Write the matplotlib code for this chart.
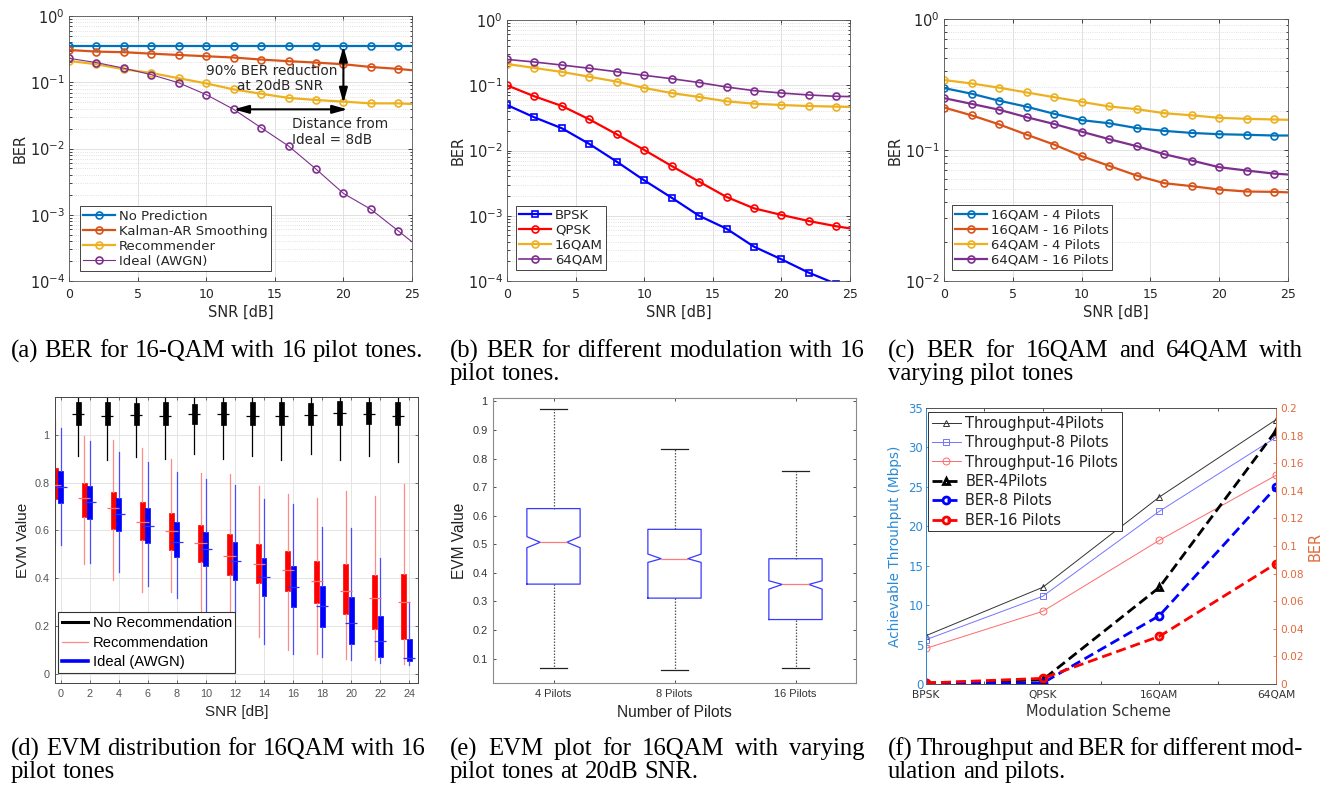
import numpy as np
import matplotlib
matplotlib.use('Agg')
import matplotlib.pyplot as plt
import matplotlib.ticker as mticker
from matplotlib.lines import Line2D

# ---- data ----
SNR = [0, 2, 4, 6, 8, 10, 12, 14, 16, 18, 20, 22, 24, 25]

# (a) 16-QAM, 16 pilots
NO_PRED = [0.350, 0.350, 0.350, 0.350, 0.350, 0.350, 0.350, 0.350, 0.350, 0.350, 0.350, 0.350, 0.350, 0.350]
KALMAN = [0.307, 0.290, 0.284, 0.270, 0.258, 0.247, 0.236, 0.220, 0.208, 0.198, 0.187, 0.170, 0.159, 0.152]
RECOMM = [0.210, 0.187, 0.157, 0.138, 0.115, 0.096, 0.078, 0.067, 0.058, 0.054, 0.051, 0.048, 0.048, 0.047]
IDEAL = [0.230, 0.198, 0.163, 0.130, 0.098, 0.065, 0.039, 0.0206, 0.0109, 0.0049, 0.0021, 0.00121, 0.00057, 0.00039]

# (b) modulations
BPSK = [0.0498, 0.0322, 0.0219, 0.0126, 0.00674, 0.00349, 0.00189, 0.00100, 0.000633, 0.000336, 0.000215, 0.000134, 0.000090]
QPSK = [0.0998, 0.0676, 0.0481, 0.0300, 0.0177, 0.0102, 0.00579, 0.00333, 0.00194, 0.00130, 0.00103, 0.00083, 0.00069, 0.00064]
QAM16 = [0.212, 0.184, 0.160, 0.135, 0.1135, 0.0908, 0.076, 0.066, 0.0567, 0.0522, 0.0498, 0.048, 0.047, 0.0465]
QAM64 = [0.249, 0.227, 0.204, 0.182, 0.161, 0.142, 0.126, 0.110, 0.094, 0.0826, 0.076, 0.071, 0.0676, 0.067]

# (c) pilots
Q16_P4 = [0.297, 0.269, 0.238, 0.214, 0.189, 0.169, 0.160, 0.147, 0.140, 0.135, 0.132, 0.1306, 0.129, 0.129]
Q16_P16 = [0.211, 0.184, 0.157, 0.131, 0.110, 0.0898, 0.0757, 0.0638, 0.0558, 0.053, 0.0499, 0.0482, 0.0479, 0.0475]
Q64_P4 = [0.342, 0.322, 0.299, 0.275, 0.253, 0.233, 0.215, 0.205, 0.191, 0.184, 0.176, 0.173, 0.171, 0.170]
Q64_P16 = [0.249, 0.225, 0.203, 0.178, 0.158, 0.138, 0.121, 0.107, 0.0929, 0.0831, 0.0739, 0.0697, 0.066, 0.065]

# (d) EVM box stats per SNR
EVM_SNR = [0, 2, 4, 6, 8, 10, 12, 14, 16, 18, 20, 22, 24]
NOREC_MED = [1.088, 1.080, 1.081, 1.080, 1.088, 1.085, 1.080, 1.080, 1.083, 1.090, 1.086, 1.080]
NOREC_Q1 = [1.042, 1.040, 1.040, 1.040, 1.045, 1.042, 1.040, 1.040, 1.042, 1.040, 1.045, 1.040]
NOREC_Q3 = [1.135, 1.135, 1.132, 1.135, 1.130, 1.135, 1.138, 1.135, 1.133, 1.140, 1.135, 1.138]
NOREC_LO = [0.910, 0.895, 0.905, 0.900, 0.920, 0.900, 0.910, 0.895, 0.920, 0.895, 0.910, 0.885]
NOREC_HI = [1.170, 1.170, 1.170, 1.170, 1.170, 1.170, 1.170, 1.170, 1.170, 1.170, 1.170, 1.170]

REC_Q1 = [0.730, 0.657, 0.607, 0.559, 0.517, 0.466, 0.415, 0.380, 0.347, 0.294, 0.249, 0.185, 0.147]
REC_Q3 = [0.860, 0.800, 0.759, 0.717, 0.671, 0.622, 0.585, 0.541, 0.512, 0.471, 0.459, 0.413, 0.417]
REC_MED = [0.790, 0.734, 0.692, 0.634, 0.596, 0.548, 0.494, 0.457, 0.434, 0.389, 0.345, 0.315, 0.300]
REC_LO = [0.545, 0.459, 0.394, 0.343, 0.343, 0.250, 0.260, 0.154, 0.098, 0.084, 0.063, 0.056, 0.039]
REC_HI = [1.063, 0.996, 0.979, 0.944, 0.899, 0.842, 0.836, 0.786, 0.751, 0.734, 0.765, 0.744, 0.793]

IDL_Q1 = [0.713, 0.648, 0.599, 0.548, 0.487, 0.450, 0.394, 0.324, 0.277, 0.196, 0.123, 0.070, 0.053]
IDL_Q3 = [0.849, 0.786, 0.734, 0.692, 0.636, 0.594, 0.550, 0.483, 0.452, 0.368, 0.319, 0.241, 0.147]
IDL_MED = [0.783, 0.719, 0.669, 0.618, 0.552, 0.520, 0.473, 0.406, 0.364, 0.283, 0.214, 0.137, 0.067]
IDL_LO = [0.538, 0.464, 0.427, 0.366, 0.315, 0.259, 0.259, 0.126, 0.081, 0.070, 0.056, 0.045, 0.035]
IDL_HI = [1.028, 0.972, 0.927, 0.888, 0.843, 0.814, 0.790, 0.730, 0.709, 0.615, 0.608, 0.485, 0.300]

# (e) EVM at 20 dB for pilot counts
PILOTS = ['4 Pilots', '8 Pilots', '16 Pilots']
E_MED = [0.507, 0.4495, 0.3595]
E_Q1 = [0.3606, 0.3116, 0.2367]
E_Q3 = [0.6248, 0.5523, 0.4495]
E_LO = [0.0684, 0.0614, 0.0673]
E_HI = [0.973, 0.833, 0.757]
E_CILO = [0.488, 0.4366, 0.3431]
E_CIHI = [0.5266, 0.4658, 0.3723]

# (f) throughput and BER
MODS = ['BPSK', 'QPSK', '16QAM', '64QAM']
TP_4 = [6.13, 12.26, 23.71, 33.52]
TP_8 = [5.62, 11.12, 21.90, 31.28]
TP_16 = [4.52, 9.21, 18.22, 26.46]
BER_4 = [0.0007, 0.0030, 0.0700, 0.1836]
BER_8 = [0.0005, 0.0007, 0.0495, 0.1425]
BER_16 = [0.0007, 0.0041, 0.0345, 0.0872]

CAPTIONS = [
    ['(a) BER for 16-QAM with 16 pilot tones.'],
    ['(b) BER for different modulation with 16', 'pilot tones.'],
    ['(c) BER for 16QAM and 64QAM with', 'varying pilot tones'],
    ['(d) EVM distribution for 16QAM with 16', 'pilot tones'],
    ['(e) EVM plot for 16QAM with varying', 'pilot tones at 20dB SNR.'],
    ['(f) Throughput and BER for different mod-', 'ulation and pilots.'],
]

# ---- layout helpers (pixels of the 1327x789 image) ----
W, H = 1327, 789
fig = plt.figure(figsize=(W / 100, H / 100), dpi=100)
fig.patch.set_facecolor('white')


def axes_px(x0, y0, x1, y1):
    return fig.add_axes([x0 / W, 1 - y1 / H, (x1 - x0) / W, (y1 - y0) / H])


M_BLUE, M_ORANGE, M_YELLOW, M_PURPLE = '#0072BD', '#D95319', '#EDB120', '#7E2F8E'
DARK = '#262626'


def ber_axes(ax, ylo):
    ax.set_yscale('log')
    ax.set_xlim(0, 25)
    ax.set_ylim(ylo, 1)
    ax.set_xticks(range(0, 26, 5))
    ax.yaxis.set_minor_formatter(mticker.NullFormatter())
    ax.grid(True, which='major', color='#dcdcdc', lw=0.6)
    ax.grid(True, which='minor', axis='y', color='#d8d8d8', lw=0.6, ls=':')
    ax.set_axisbelow(True)
    ax.tick_params(which='both', direction='in', top=True, right=True, colors=DARK,
                   length=3, width=0.6)
    ax.tick_params(which='minor', length=1.8)
    ax.tick_params(axis='x', labelsize=9, pad=5)
    ax.tick_params(axis='y', labelsize=10.5, pad=3)
    for s in ax.spines.values():
        s.set_color('#555555')
        s.set_linewidth(0.6)
    ax.set_xlabel('SNR [dB]', fontsize=10.5, color=DARK, va='center')
    ax.xaxis.set_label_coords(0.5, -0.118)
    ax.set_ylabel('BER', fontsize=10.5, color=DARK, va='center')
    ax.yaxis.set_label_coords(-0.143, 0.5)


def ber_legend(ax, x, y):
    leg = ax.legend(loc='lower left', bbox_to_anchor=(x, y), borderaxespad=0,
                    fontsize=9.5, fancybox=False, framealpha=1, edgecolor=DARK,
                    handlelength=2.4, handletextpad=0.3, labelspacing=0.15,
                    borderpad=0.25)
    leg.get_frame().set_linewidth(0.6)
    for t in leg.get_texts():
        t.set_color(DARK)


mk = dict(marker='o', ms=5, mfc='none', mew=1.2, markevery=slice(0, 13))

# ---- (a) ----
ax = axes_px(69, 16, 412, 281)
ber_axes(ax, 1e-4)
ax.plot(SNR, NO_PRED, color=M_BLUE, lw=1.6, label='No Prediction', **mk)
ax.plot(SNR, KALMAN, color=M_ORANGE, lw=1.6, label='Kalman-AR Smoothing', **mk)
ax.plot(SNR, RECOMM, color=M_YELLOW, lw=1.6, label='Recommender', **mk)
ax.plot(SNR, IDEAL, color=M_PURPLE, lw=0.8, label='Ideal (AWGN)', **mk)
arr = dict(arrowstyle='<|-|>,head_length=0.9,head_width=0.25', color='black', lw=1.5,
           shrinkA=0, shrinkB=0, mutation_scale=10)
ax.annotate('', xy=(20, NO_PRED[10]), xytext=(20, RECOMM[10] * 0.95), arrowprops=arr)
ax.annotate('', xy=(12, IDEAL[6]), xytext=(20.3, IDEAL[6]), arrowprops=arr)
ax.text(14.75, 0.15, '90% BER reduction', ha='center', va='center', fontsize=9.8, color=DARK)
ax.text(15.4, 0.087, 'at 20dB SNR', ha='center', va='center', fontsize=9.8, color=DARK)
ax.text(16.25, 0.0235, 'Distance from', ha='left', va='center', fontsize=9.8, color=DARK)
ax.text(16.25, 0.0133, 'Ideal = 8dB', ha='left', va='center', fontsize=9.8, color=DARK)
ber_legend(ax, 0.032, 0.038)

# ---- (b) ----
ax = axes_px(507, 20, 850, 281)
ber_axes(ax, 1e-4)
ax.plot(SNR[:len(BPSK)], BPSK, color='#0000ff', lw=1.6, label='BPSK',
        marker='s', ms=4.5, mfc='none', mew=1.2)
ax.plot(SNR, QPSK, color='#ff0000', lw=1.6, label='QPSK', **mk)
ax.plot(SNR, QAM16, color=M_YELLOW, lw=1.6, label='16QAM', **mk)
ax.plot(SNR, QAM64, color=M_PURPLE, lw=1.2, label='64QAM', **mk)
ber_legend(ax, 0.026, 0.042)

# ---- (c) ----
ax = axes_px(944, 19, 1288, 281)
ber_axes(ax, 1e-2)
ax.plot(SNR, Q16_P4, color=M_BLUE, lw=1.6, label='16QAM - 4 Pilots', **mk)
ax.plot(SNR, Q16_P16, color=M_ORANGE, lw=1.6, label='16QAM - 16 Pilots', **mk)
ax.plot(SNR, Q64_P4, color=M_YELLOW, lw=1.6, label='64QAM - 4 Pilots', **mk)
ax.plot(SNR, Q64_P16, color=M_PURPLE, lw=1.6, label='64QAM - 16 Pilots', **mk)
ber_legend(ax, 0.023, 0.042)

# ---- (d) ----
SANS = 'Liberation Sans'
ax = axes_px(55, 397, 418, 683)


def stats(med, q1, q3, lo, hi):
    return [dict(med=m, q1=a, q3=b, whislo=c, whishi=d, fliers=[])
            for m, a, b, c, d in zip(med, q1, q3, lo, hi)]


groups = [
    (np.array(EVM_SNR[:len(NOREC_MED)]) + 1.2,
     stats(NOREC_MED, NOREC_Q1, NOREC_Q3, NOREC_LO, NOREC_HI), 'black', 'black', 'black'),
    (np.array(EVM_SNR) - 0.37,
     stats(REC_MED, REC_Q1, REC_Q3, REC_LO, REC_HI), '#ff0000', '#ff8a8a', '#ff7070'),
    (np.array(EVM_SNR, dtype=float),
     stats(IDL_MED, IDL_Q1, IDL_Q3, IDL_LO, IDL_HI), '#0000ff', '#4a4aff', '#3030ff'),
]
for pos, st, fc, wc, mc in groups:
    ax.bxp(st, positions=pos, widths=0.34, patch_artist=True, showcaps=False,
           showfliers=False, manage_ticks=False,
           boxprops=dict(facecolor=fc, edgecolor=fc, lw=0.5),
           whiskerprops=dict(color=wc, lw=0.9),
           medianprops=dict(lw=0))
    meds = [s['med'] for s in st]
    ax.hlines(meds, pos - 0.42, pos + 0.42, color=mc, lw=0.9, zorder=3)
ax.set_xlim(-0.39, 24.6)
ax.set_ylim(-0.039, 1.158)
ax.set_xticks(EVM_SNR)
ax.set_yticks([0, 0.2, 0.4, 0.6, 0.8, 1])
ax.yaxis.set_major_formatter(mticker.FuncFormatter(lambda v, p: f'{v:g}'))
ax.grid(True, color='#e4e4e4', lw=0.7)
ax.set_axisbelow(True)
ax.tick_params(direction='in', top=True, right=True, colors='#555555', length=2.5,
               width=0.6, labelsize=7.8, pad=4)
for t in ax.get_xticklabels() + ax.get_yticklabels():
    t.set_family(SANS)
for s in ax.spines.values():
    s.set_color('#444444')
    s.set_linewidth(0.7)
ax.set_xlabel('SNR [dB]', fontsize=11, family=SANS, color='#222222', va='center')
ax.xaxis.set_label_coords(0.5, -0.101)
ax.set_ylabel('EVM Value', fontsize=11, family=SANS, color='#222222', va='center')
ax.yaxis.set_label_coords(-0.088, 0.5)
hd = [Line2D([], [], color='black', lw=2.2), Line2D([], [], color='#ff8a8a', lw=0.9),
      Line2D([], [], color='#0000ff', lw=2.6)]
leg = ax.legend(hd, ['No Recommendation', 'Recommendation', 'Ideal (AWGN)'],
                loc='lower left', bbox_to_anchor=(0.008, 0.035), borderaxespad=0,
                prop=dict(family=SANS, size=10.6), fancybox=False, framealpha=1,
                edgecolor='#333333', handlelength=1.8, handletextpad=0.3,
                labelspacing=0.38, borderpad=0.25)
leg.get_frame().set_linewidth(0.8)

# ---- (e) ----
ax = axes_px(493, 398, 856, 683)
st = [dict(med=m, q1=a, q3=b, whislo=c, whishi=d, cilo=e, cihi=f, fliers=[])
      for m, a, b, c, d, e, f in zip(E_MED, E_Q1, E_Q3, E_LO, E_HI, E_CILO, E_CIHI)]
ax.bxp(st, positions=[1, 2, 3], widths=0.44, shownotches=True, showfliers=False,
       capwidths=0.22, manage_ticks=False,
       boxprops=dict(color='#3a3aff', lw=0.9),
       whiskerprops=dict(color='#555555', lw=0.9, ls=(0, (1.2, 1.2))),
       capprops=dict(color='#222222', lw=0.9),
       medianprops=dict(color='#ff7a7a', lw=0.9))
ax.set_xlim(0.5, 3.5)
ax.set_ylim(0.0147, 1.0117)
ax.set_xticks([1, 2, 3])
ax.set_xticklabels(PILOTS)
ax.set_yticks(np.round(np.arange(0.1, 1.01, 0.1), 1))
ax.yaxis.set_major_formatter(mticker.FuncFormatter(lambda v, p: f'{v:g}'))
ax.tick_params(direction='in', top=True, right=True, colors='#333333', length=2.5,
               width=0.6, labelsize=7.9, pad=4)
for t in ax.get_xticklabels() + ax.get_yticklabels():
    t.set_family(SANS)
for s in ax.spines.values():
    s.set_color('#8a8a8a')
    s.set_linewidth(0.8)
ax.set_xlabel('Number of Pilots', fontsize=11.2, family=SANS, color='#222222', va='center')
ax.xaxis.set_label_coords(0.5, -0.105)
ax.set_ylabel('EVM Value', fontsize=11.2, family=SANS, color='#222222', va='center')
ax.yaxis.set_label_coords(-0.091, 0.5)

# ---- (f) ----
F_BLUE, F_ORANGE = '#2b8ad4', '#e06a3c'
ax = axes_px(926, 408, 1276, 684)
ax2 = ax.twinx()
xm = np.arange(1, len(MODS) + 1)
h1, = ax.plot(xm, TP_4, color='#333333', lw=0.7, marker='^', ms=5, mfc='none', mew=0.7,
              label='Throughput-4Pilots')
h2, = ax.plot(xm, TP_8, color='#7474ff', lw=0.7, marker='s', ms=4.5, mfc='none', mew=0.7,
              label='Throughput-8 Pilots')
h3, = ax.plot(xm, TP_16, color='#ff6a6a', lw=0.7, marker='o', ms=5, mfc='none', mew=0.7,
              label='Throughput-16 Pilots')
dash = (0, (3.6, 1.8))
h4, = ax2.plot(xm, BER_4, color='black', lw=2, ls=dash, marker='^', ms=5, mfc='none',
               mew=2, label='BER-4Pilots')
h5, = ax2.plot(xm, BER_8, color='#0000ff', lw=2, ls=dash, marker='o', ms=5, mfc='none',
               mew=2, label='BER-8 Pilots')
h6, = ax2.plot(xm, BER_16, color='#ff0000', lw=2, ls=dash, marker='o', ms=5, mfc='none',
               mew=2, label='BER-16 Pilots')
ax.set_xlim(1, 4)
ax.set_ylim(0, 35)
ax2.set_ylim(0, 0.2)
ax.set_xticks(xm)
ax.set_xticklabels(MODS)
ax.set_xticks([1.5, 2.5, 3.5], minor=True)
ax.set_yticks(range(0, 36, 5))
ax2.set_yticks(np.round(np.arange(0, 0.201, 0.02), 2))
ax2.yaxis.set_major_formatter(mticker.FuncFormatter(lambda v, p: f'{v:g}'))
ax.tick_params(axis='x', which='both', direction='in', top=True, colors='#333333',
               length=2.5, width=0.6, labelsize=7.7, pad=4)
ax.tick_params(axis='x', which='minor', length=2.5)
ax.tick_params(axis='y', direction='in', colors=F_BLUE, length=2.5, width=0.6,
               labelsize=8.5, pad=2)
ax2.tick_params(axis='y', direction='in', colors=F_ORANGE, length=2.5, width=0.6,
                labelsize=7.6, pad=3)
for a in (ax, ax2):
    a.spines['top'].set_color('#555555')
    a.spines['bottom'].set_color('#555555')
    a.spines['left'].set_color(F_BLUE)
    a.spines['right'].set_color(F_ORANGE)
    for s in a.spines.values():
        s.set_linewidth(0.7)
ax.set_xlabel('Modulation Scheme', fontsize=10.5, color='#333333', va='center')
ax.xaxis.set_label_coords(0.494, -0.101)
ax.set_ylabel('Achievable Throuhput (Mbps)', fontsize=9.8, color=F_BLUE, va='center')
ax.yaxis.set_label_coords(-0.089, 0.5)
ax2.set_ylabel('BER', fontsize=10.5, color=F_ORANGE, va='center', rotation=90)
ax2.yaxis.set_label_coords(1.111, 0.5)
leg = ax2.legend([h1, h2, h3, h4, h5, h6], [h.get_label() for h in (h1, h2, h3, h4, h5, h6)],
                 loc='upper left', bbox_to_anchor=(0.006, 0.985), borderaxespad=0,
                 fontsize=10.5, fancybox=False, framealpha=1, edgecolor='#333333',
                 handlelength=2.0, handletextpad=0.3, labelspacing=0.3, borderpad=0.25)
leg.get_frame().set_linewidth(0.7)
for t in leg.get_texts():
    t.set_color('#222222')

# ---- captions (justified like the paper) ----
renderer = fig.canvas.get_renderer()
CAP = dict(family='Liberation Serif', fontsize=17.8, color='black', va='center')


def put_line(text, x0, x1, ypx, justify):
    words = text.split()
    arts = [fig.text(0, 1 - ypx / H, w, **CAP) for w in words]
    widths = [a.get_window_extent(renderer).width for a in arts]
    space = fig.text(0, 0, 'a a', **CAP)
    sp = space.get_window_extent(renderer).width
    space.remove()
    aw = fig.text(0, 0, 'aa', **CAP)
    sp -= aw.get_window_extent(renderer).width
    aw.remove()
    gap = (x1 - x0 - sum(widths)) / (len(words) - 1) if justify else sp
    x = x0
    for a, w in zip(arts, widths):
        a.set_x(x / W)
        x += w + gap


COL_X = [11, 450, 888]
COL_W = 415
ROW_Y = [351, 749]
LINE_DY = 23
for i, lines in enumerate(CAPTIONS):
    x0 = COL_X[i % 3]
    y0 = ROW_Y[i // 3]
    for j, line in enumerate(lines):
        last = j == len(lines) - 1
        put_line(line, x0, x0 + COL_W, y0 + j * LINE_DY, not last)

fig.savefig('out.png', dpi=100, facecolor='white')
